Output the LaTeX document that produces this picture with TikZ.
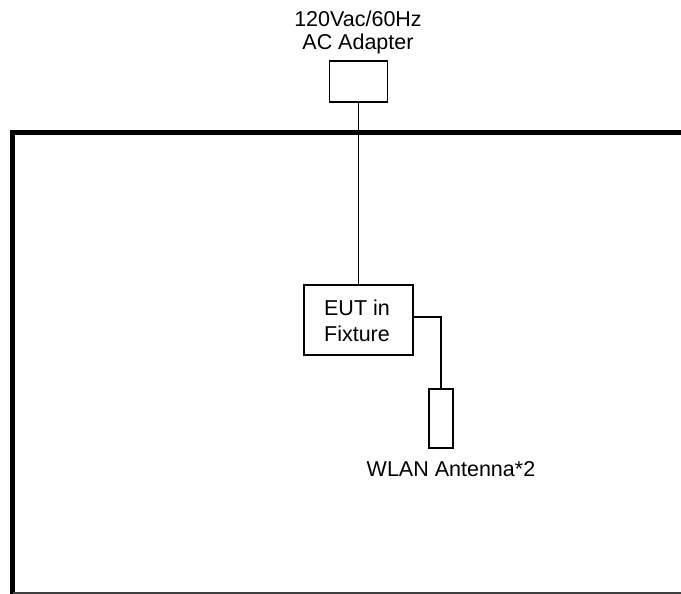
\documentclass[tikz,border=0pt]{standalone}
\usepackage{fontspec}
\setmainfont{Liberation Sans}
\usetikzlibrary{positioning}

\tikzset{
	box/.style={draw, line width=1.3pt, inner sep=0pt},
	label/.style={font=\fontsize{21.5}{23}\selectfont, inner sep=0pt},
	wire/.style={line width=1.3pt}
}

\begin{document}
\begin{tikzpicture}[x=1pt, y=-1pt]
	
	% Parameters
	\def\W{681}
	\def\H{594}
	\def\frameW{5} % width of the shielded room wall
	
	\useasboundingbox (0,0) rectangle (\W,\H);
	
	% -----------------------------
	% Room walls
	% -----------------------------
	\begin{scope}
		\clip (0,0) rectangle (\W,\H);
		\draw[line width=\frameW pt] (12.5,594.5) -- (12.5,132.5) -- (700,132.5);
		\draw[line width=\frameW pt, black!75] (12.5,594.5) -- (700,594.5);
	\end{scope}
	
	% -----------------------------
	% Adapter
	% -----------------------------
	\node[label, align=center, anchor=base] (adaptertxt) at (358,50)
		{120Vac/60Hz\\AC Adapter};
	\node[box, minimum width=58pt, minimum height=41pt] (adapter) at (358.5,81.5) {};
	
	% -----------------------------
	% EUT and antenna
	% -----------------------------
	\node[box, minimum width=109pt, minimum height=70pt] (eut) at (358.5,320) {};
	\node[label, align=left, font=\fontsize{21.5}{26.5}\selectfont] (euttxt) at (357,321)
		{EUT in\\Fixture};
	\node[box, minimum width=24pt, minimum height=59pt] (antenna) at (441,418.5) {};
	\node[label, anchor=base] (anttxt) at (451,476.5) {WLAN Antenna*2};
	
	% Wires
	\draw[wire] (adapter.south) -- (adapter.south |- eut.north);
	\draw[wire] ([yshift=3pt]eut.east) -| (antenna.north);
	
\end{tikzpicture}
\end{document}
